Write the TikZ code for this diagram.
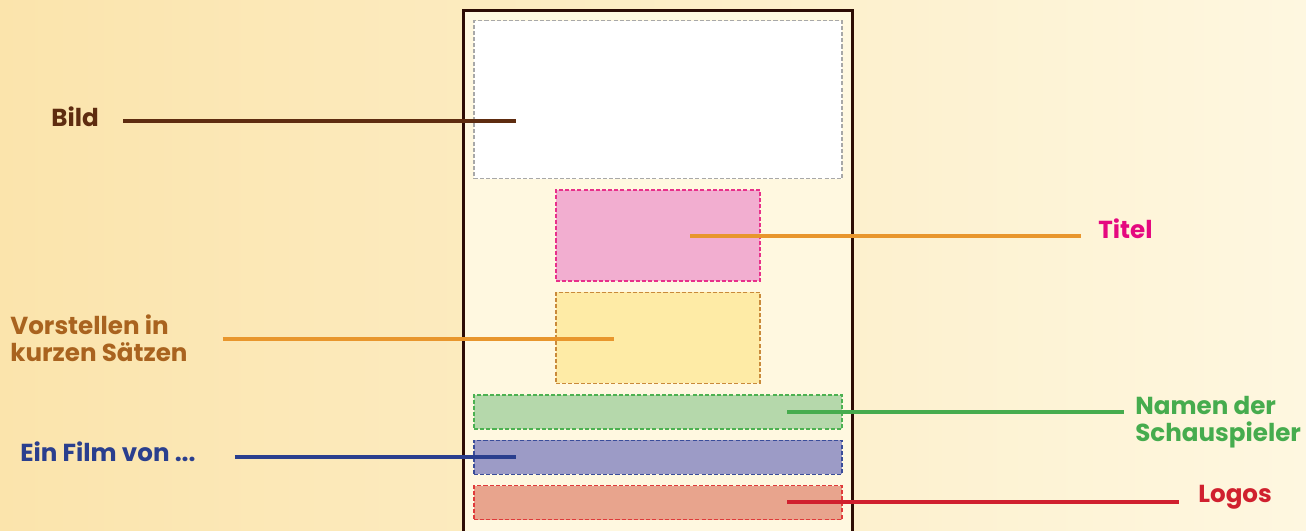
\documentclass[tikz,border=0pt]{standalone}
\usepackage{fontspec}
\setmainfont{Poppins}
\usepackage{tikz}
\usetikzlibrary{positioning}
\definecolor{bgleft}{RGB}{251,228,172}
\definecolor{bgmid}{RGB}{253,238,198}
\definecolor{bgright}{RGB}{254,247,224}
\definecolor{framecream}{RGB}{255,248,224}
\definecolor{framebrown}{RGB}{45,12,5}
\definecolor{mybrown}{RGB}{94,44,16}
\definecolor{myorange}{RGB}{232,150,45}
\definecolor{mymagenta}{RGB}{229,8,127}
\definecolor{myochre}{RGB}{169,99,31}
\definecolor{mygreen}{RGB}{70,172,78}
\definecolor{myblue}{RGB}{42,63,142}
\definecolor{myred}{RGB}{208,32,46}
\definecolor{edgegrey}{RGB}{168,168,168}
\definecolor{edgepink}{RGB}{232,48,138}
\definecolor{edgeochre}{RGB}{201,138,58}
\definecolor{edgegreen}{RGB}{76,177,81}
\definecolor{edgeblue}{RGB}{58,77,154}
\definecolor{edgered}{RGB}{224,58,58}
\definecolor{fillpink}{RGB}{242,174,208}
\definecolor{fillyellow}{RGB}{254,235,166}
\definecolor{fillgreen}{RGB}{181,216,171}
\definecolor{fillblue}{RGB}{156,155,198}
\definecolor{fillred}{RGB}{232,164,141}
\tikzset{
  lbl/.style={font=\bfseries\fontsize{14}{15.4}\selectfont,
    align=left, inner sep=0pt, anchor=west},
  frame/.style={rectangle, draw=framebrown, fill=framecream,
    line width=1.7pt, minimum width=7.8cm, minimum height=12cm},
  slot/.style={rectangle, line width=0.8pt,
    dash pattern=on 2.3pt off 1.2pt, inner sep=0pt},
  wideslot/.style={slot, minimum width=7.36cm, minimum height=0.68cm},
  midslot/.style={slot, minimum width=4.08cm, minimum height=1.82cm},
  pointer/.style={line width=2pt}
}
\begin{document}
\begin{tikzpicture}[x=0.02cm, y=-0.02cm, node distance=0.2cm]
  \clip (0,0) rectangle (1306,531);
  \shade[left color=bgleft, middle color=bgmid, right color=bgright]
    (0,0) rectangle (1306,531);
  \node[frame, anchor=north] (page) at (658,9) {};
  \node[slot, draw=edgegrey, fill=white, minimum width=7.36cm,
    minimum height=3.16cm, anchor=north] (bildbox) at (658,20) {};
  \node[midslot, draw=edgepink, fill=fillpink, below=of bildbox] (titelbox) {};
  \node[midslot, draw=edgeochre, fill=fillyellow, below=of titelbox] (textbox) {};
  \node[wideslot, draw=edgegreen, fill=fillgreen, below=of textbox] (namenbox) {};
  \node[wideslot, draw=edgeblue, fill=fillblue, below=of namenbox] (filmbox) {};
  \node[wideslot, draw=edgered, fill=fillred, below=of filmbox] (logosbox) {};
  \coordinate (bildpt) at (516,121);
  \coordinate (titelpt) at (690,236);
  \coordinate (textpt) at (614,339);
  \coordinate (namenpt) at (787,412);
  \coordinate (filmpt) at (516,457);
  \coordinate (logospt) at (787,502);
  \node[lbl, text=mybrown] (bild) at (51,117) {Bild};
  \node[lbl, text=mymagenta] (titel) at (1098,229) {Titel};
  \node[lbl, text=myochre] (text) at (10,338) {Vorstellen in\\kurzen Sätzen};
  \node[lbl, text=mygreen] (namen) at (1135,422) {Namen der\\Schauspieler};
  \node[lbl, text=myblue] (film) at (20,452) {Ein Film von ...};
  \node[lbl, text=myred] (logos) at (1198,497) {Logos};
  \draw[pointer, mybrown, shorten <=0.48cm] (bild.east |- bildpt) -- (bildpt);
  \draw[pointer, myorange, shorten >=0.34cm] (titelpt) -- (titelpt -| titel.west);
  \draw[pointer, myorange, shorten <=0.7cm] (text.east |- textpt) -- (textpt);
  \draw[pointer, mygreen, shorten >=0.22cm] (namenpt) -- (namenpt -| namen.west);
  \draw[pointer, myblue, shorten <=0.78cm] (film.east |- filmpt) -- (filmpt);
  \draw[pointer, myred, shorten >=0.38cm] (logospt) -- (logospt -| logos.west);
\end{tikzpicture}
\end{document}
